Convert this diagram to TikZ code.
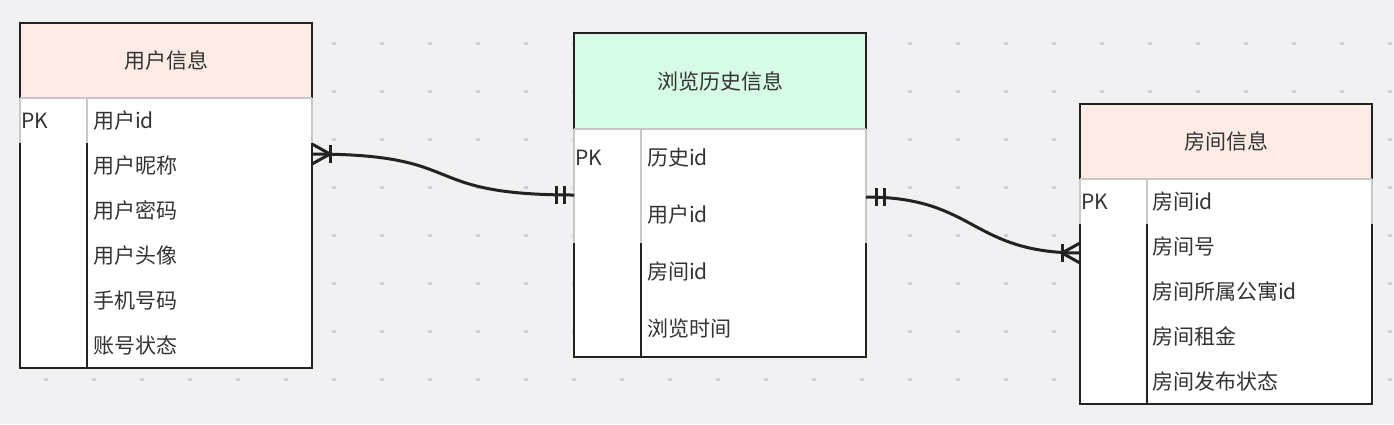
\documentclass[tikz,border=0pt]{standalone}
\usepackage{fontspec}
\setmainfont{Noto Sans CJK SC}
\definecolor{bgcol}{HTML}{F1F1F4}
\definecolor{dotcol}{HTML}{CDCDD2}
\definecolor{peach}{HTML}{FCECE5}
\definecolor{mint}{HTML}{D6FCE7}
\definecolor{txt}{HTML}{333333}
\definecolor{edgecol}{HTML}{222222}
\definecolor{pkgray}{HTML}{C8C8C8}
\begin{document}
\begin{tikzpicture}[x=1pt, y=-1pt, every node/.style={font=\fontsize{21}{25}\selectfont, text=txt, inner sep=0pt, outer sep=0pt}]
\useasboundingbox (0,0) rectangle (1394,424);
\fill[bgcol] (0,0) rectangle (1394,424);
\foreach \i in {0,...,28} \foreach \j in {0,...,7}
  \fill[dotcol] (44.4+48*\i, 42.1+48*\j) rectangle ++(3.2,3.2);

\tikzset{hdr/.style={minimum width=292pt, minimum height=75pt}}
\tikzset{body/.style={minimum width=292pt, fill=white}}
\tikzset{fld/.style={anchor=west}}
\tikzset{tbl/.style={draw=edgecol, line width=1.4pt}}
\tikzset{pk/.style={draw=pkgray, line width=1.4pt}}

% user table
\node[hdr, fill=peach] (uh) at (166,60.5) {用户信息};
\node[body, minimum height=270pt] (ub) at (166,233) {};
\draw[tbl] (uh.north west) rectangle (ub.south east);
\draw[tbl] (87,143) -- (87,368);
\draw[pk] (20,98) -- (312,98);
\draw[pk] (20,98) -- (20,143);
\draw[pk] (312,98) -- (312,143);
\draw[pk] (87,98) -- (87,143);
\node[fld] (upk) at (21,120.5) {PK};
\node[fld] (u1) at (93,120.5) {用户id};
\node[fld] (u2) at (93,165.5) {用户昵称};
\node[fld] (u3) at (93,210.5) {用户密码};
\node[fld] (u4) at (93,255.5) {用户头像};
\node[fld] (u5) at (93,300.5) {手机号码};
\node[fld] (u6) at (93,345.5) {账号状态};

% history table
\node[hdr, fill=mint, minimum height=96pt] (hh) at (720,81) {浏览历史信息};
\node[body, minimum height=228pt] (hb) at (720,243) {};
\draw[tbl] (hh.north west) rectangle (hb.south east);
\draw[tbl] (641,243) -- (641,357);
\draw[pk] (574,129) -- (866,129);
\draw[pk] (574,129) -- (574,243);
\draw[pk] (866,129) -- (866,243);
\draw[pk] (641,129) -- (641,243);
\node[fld] (hpk) at (575,157.5) {PK};
\node[fld] (h1) at (647,157.5) {历史id};
\node[fld] (h2) at (647,214.5) {用户id};
\node[fld] (h3) at (647,271.5) {房间id};
\node[fld] (h4) at (647,328.5) {浏览时间};

% room table
\node[hdr, fill=peach] (rh) at (1226,141.5) {房间信息};
\node[body, minimum height=225pt] (rb) at (1226,291.5) {};
\draw[tbl] (rh.north west) rectangle (rb.south east);
\draw[tbl] (1147,224) -- (1147,404);
\draw[pk] (1080,179) -- (1372,179);
\draw[pk] (1080,179) -- (1080,224);
\draw[pk] (1372,179) -- (1372,224);
\draw[pk] (1147,179) -- (1147,224);
\node[fld] (rpk) at (1081.5,201.5) {PK};
\node[fld] (r1) at (1152,201.5) {房间id};
\node[fld] (r2) at (1152,246.5) {房间号};
\node[fld] (r3) at (1152,291.5) {房间所属公寓id};
\node[fld] (r4) at (1152,336.5) {房间租金};
\node[fld] (r5) at (1152,381.5) {房间发布状态};

% relations
\tikzset{rel/.style={draw=edgecol, line width=3pt}}
\coordinate (c1a) at (312,154);
\coordinate (c1b) at (574,195);
\coordinate (c2a) at (866,197);
\coordinate (c2b) at (1080,253);

\draw[rel] (c1a) .. controls +(160,0) and +(-160,0) .. (c1b);
\draw[rel] (c1a) ++(0,-10) -- ++(18,10) -- ++(-18,10);
\draw[rel] (c1a) ++(18,-9) -- ++(0,18);
\draw[rel] (c1b) ++(-18,-9) -- ++(0,18);
\draw[rel] (c1b) ++(-10,-9) -- ++(0,18);

\draw[rel] (c2a) .. controls +(110,0) and +(-110,0) .. (c2b);
\draw[rel] (c2a) ++(10,-9) -- ++(0,18);
\draw[rel] (c2a) ++(18,-9) -- ++(0,18);
\draw[rel] (c2b) ++(0,-10) -- ++(-18,10) -- ++(18,10);
\draw[rel] (c2b) ++(-18,-9) -- ++(0,18);
\end{tikzpicture}
\end{document}
